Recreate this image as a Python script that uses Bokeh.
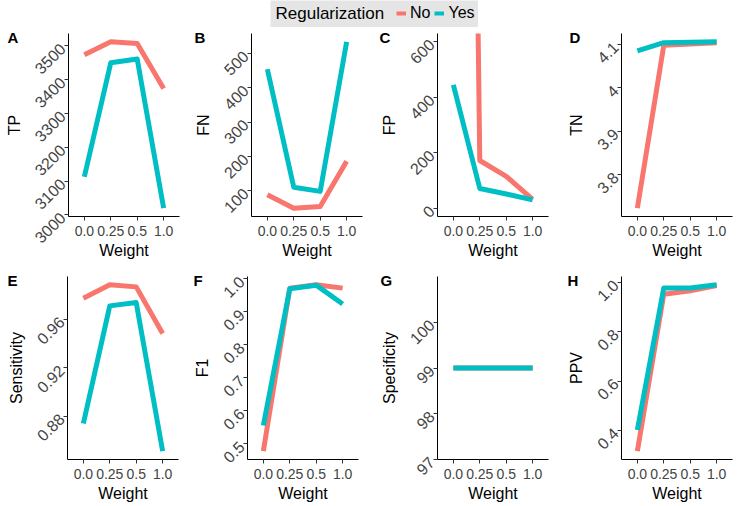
import math
from bokeh.plotting import figure
from bokeh.models import (FactorRange, Range1d, DataRange1d, FixedTicker, Label, Legend,
                          LegendItem, Spacer, PrintfTickFormatter, Title)
from bokeh.layouts import column, row
from bokeh.embed import file_html
from bokeh.resources import INLINE

# ---------------- data ----------------
weights = ["0.0", "0.25", "0.5", "1.0"]
series_names = ["No", "Yes"]

tp_no = [3474, 3512, 3507, 3374]
tp_yes = [3113, 3450, 3461, 3020]
fn_no = [88, 49, 54, 186]
fn_yes = [454, 110, 98, 534]
fp_no = [7500, 172, 115, 32]
fp_yes = [445, 71, 51, 30]
tn_no = [3.723, 4.098, 4.101, 4.104]
tn_yes = [4.085, 4.104, 4.105, 4.106]
sens_no = [0.9774, 0.9885, 0.9868, 0.9482]
sens_yes = [0.8739, 0.9711, 0.9738, 0.8510]
f1_no = [0.478, 0.972, 0.982, 0.972]
f1_yes = [0.556, 0.970, 0.981, 0.924]
spec_no = [99, 99, 99, 99]
spec_yes = [99, 99, 99, 99]
ppv_no = [0.316, 0.952, 0.966, 0.987]
ppv_yes = [0.402, 0.977, 0.977, 0.990]

tp_ticks = [3000, 3100, 3200, 3300, 3400, 3500]
fn_ticks = [100, 200, 300, 400, 500]
fp_ticks = [0, 200, 400, 600]
tn_ticks = [3.8, 3.9, 4.0, 4.1]
sens_ticks = [0.88, 0.92, 0.96]
f1_ticks = [0.5, 0.6, 0.7, 0.8, 0.9, 1.0]
spec_ticks = [97, 98, 99, 100]
ppv_ticks = [0.4, 0.6, 0.8, 1.0]

fp_limits = [0, 600]
spec_limits = [97, 101]

RED = "#F8766D"
TEAL = "#00BFC4"
FONT = "Liberation Sans"
FRAME_W = 111
FRAME_H = 183


def padded(lo, hi, frac=0.05):
    span = hi - lo
    return Range1d(lo - span * frac, hi + span * frac)


def panel(letter, ylabel, no_vals, yes_vals, ticks, yr, bl, br, bt, bb, letter_x,
          overrides=None, fmt=None):
    p = figure(x_range=FactorRange(factors=weights, range_padding=0.1,
                                   range_padding_units="absolute"),
               y_range=yr, frame_width=FRAME_W, frame_height=FRAME_H,
               min_border_left=bl, min_border_right=br, min_border_top=bt,
               min_border_bottom=bb, output_backend="svg", toolbar_location=None)
    p.line(x=weights, y=no_vals, color=RED, line_width=5, line_join="round")
    p.line(x=weights, y=yes_vals, color=TEAL, line_width=5, line_join="round")
    p.outline_line_color = None
    p.xgrid.visible = False
    p.ygrid.visible = False
    p.background_fill_color = "white"
    for ax in (p.xaxis[0], p.yaxis[0]):
        ax.axis_line_color = "black"
        ax.axis_line_width = 1
        ax.major_tick_line_color = "#333333"
        ax.major_tick_out = 4
        ax.major_tick_in = 0
        ax.minor_tick_line_color = None
        ax.major_label_text_font = FONT
        ax.major_label_text_color = "#444444"
        ax.axis_label_text_font = FONT
        ax.axis_label_text_font_size = "16px"
        ax.axis_label_text_font_style = "normal"
        ax.axis_label_text_color = "black"
    p.xaxis.major_label_text_font_size = "14px"
    p.yaxis.major_label_text_font_size = "16px"
    p.xaxis.axis_label = "Weight"
    p.xaxis.axis_label_standoff = 3
    p.xaxis.major_label_standoff = 5
    p.yaxis.axis_label = ylabel
    p.yaxis.axis_label_standoff = 3
    p.yaxis.major_label_standoff = 2
    p.yaxis.ticker = FixedTicker(ticks=ticks)
    p.yaxis.major_label_orientation = math.pi / 4
    if fmt:
        p.yaxis.formatter = PrintfTickFormatter(format=fmt)
    if overrides:
        p.yaxis.major_label_overrides = overrides
    p.add_layout(Title(text=letter, align="left", offset=letter_x, standoff=-25,
                       vertical_align="bottom", text_font=FONT, text_font_size="15px",
                       text_font_style="bold", text_color="black"), "above")
    return p


pa = panel("A", "TP", tp_no, tp_yes, tp_ticks, DataRange1d(), 68, 7, 6, 47, -61)
pb = panel("B", "FN", fn_no, fn_yes, fn_ticks, DataRange1d(), 65, 10, 6, 47, -57)
pc = panel("C", "FP", fp_no, fp_yes, fp_ticks, padded(*fp_limits), 65, 10, 6, 47, -58)
pd = panel("D", "TN", tn_no, tn_yes, tn_ticks, DataRange1d(), 63, 12, 6, 47, -52,
           overrides={4.0: "4"})

pe = panel("E", "Sensitivity", sens_no, sens_yes, sens_ticks, DataRange1d(), 67, 8, 13, 46, -60,
           fmt="%.2f")
pf = panel("F", "F1", f1_no, f1_yes, f1_ticks, DataRange1d(), 61, 14, 13, 46, -54, fmt="%.1f")
pg = panel("G", "Specificity", spec_no, spec_yes, spec_ticks,
           Range1d(*spec_limits), 65, 10, 13, 46, -57)
ph = panel("H", "PPV", ppv_no, ppv_yes, ppv_ticks, DataRange1d(), 63, 12, 13, 46, -54, fmt="%.1f")

# ---------------- legend strip ----------------
leg = figure(width=208, height=27, min_border=0, output_backend="svg",
             toolbar_location=None, x_range=Range1d(0, 1), y_range=Range1d(0, 1))
leg.axis.visible = False
leg.xgrid.visible = False
leg.ygrid.visible = False
leg.outline_line_color = None
leg.background_fill_color = "#e5e5e5"
leg.border_fill_color = "#e5e5e5"
key_x = list(range(len(weights)))
r_no = leg.line(x=key_x, y=tp_no, color=RED, line_width=4, visible=False)
r_yes = leg.line(x=key_x, y=tp_yes, color=TEAL, line_width=4, visible=False)
leg.add_layout(Label(x=5, y=14, x_units="screen", y_units="screen",
                     text="Regularization", text_font=FONT, text_font_size="17px",
                     text_baseline="middle", text_color="black"))
legend = Legend(items=[LegendItem(label=series_names[0], renderers=[r_no]),
                       LegendItem(label=series_names[1], renderers=[r_yes])],
                orientation="horizontal", location=(126, 4), glyph_width=10,
                glyph_height=20, label_height=20, label_standoff=4, spacing=4,
                padding=0, margin=0, background_fill_alpha=0, border_line_color=None,
                label_text_font=FONT, label_text_font_size="16px",
                label_text_color="black", click_policy="none")
leg.add_layout(legend)

layout = column(row(Spacer(width=270, height=27), leg),
                row(pa, pb, pc, pd),
                row(pe, pf, pg, ph))

open("out.html", "w").write(file_html(layout, INLINE))
